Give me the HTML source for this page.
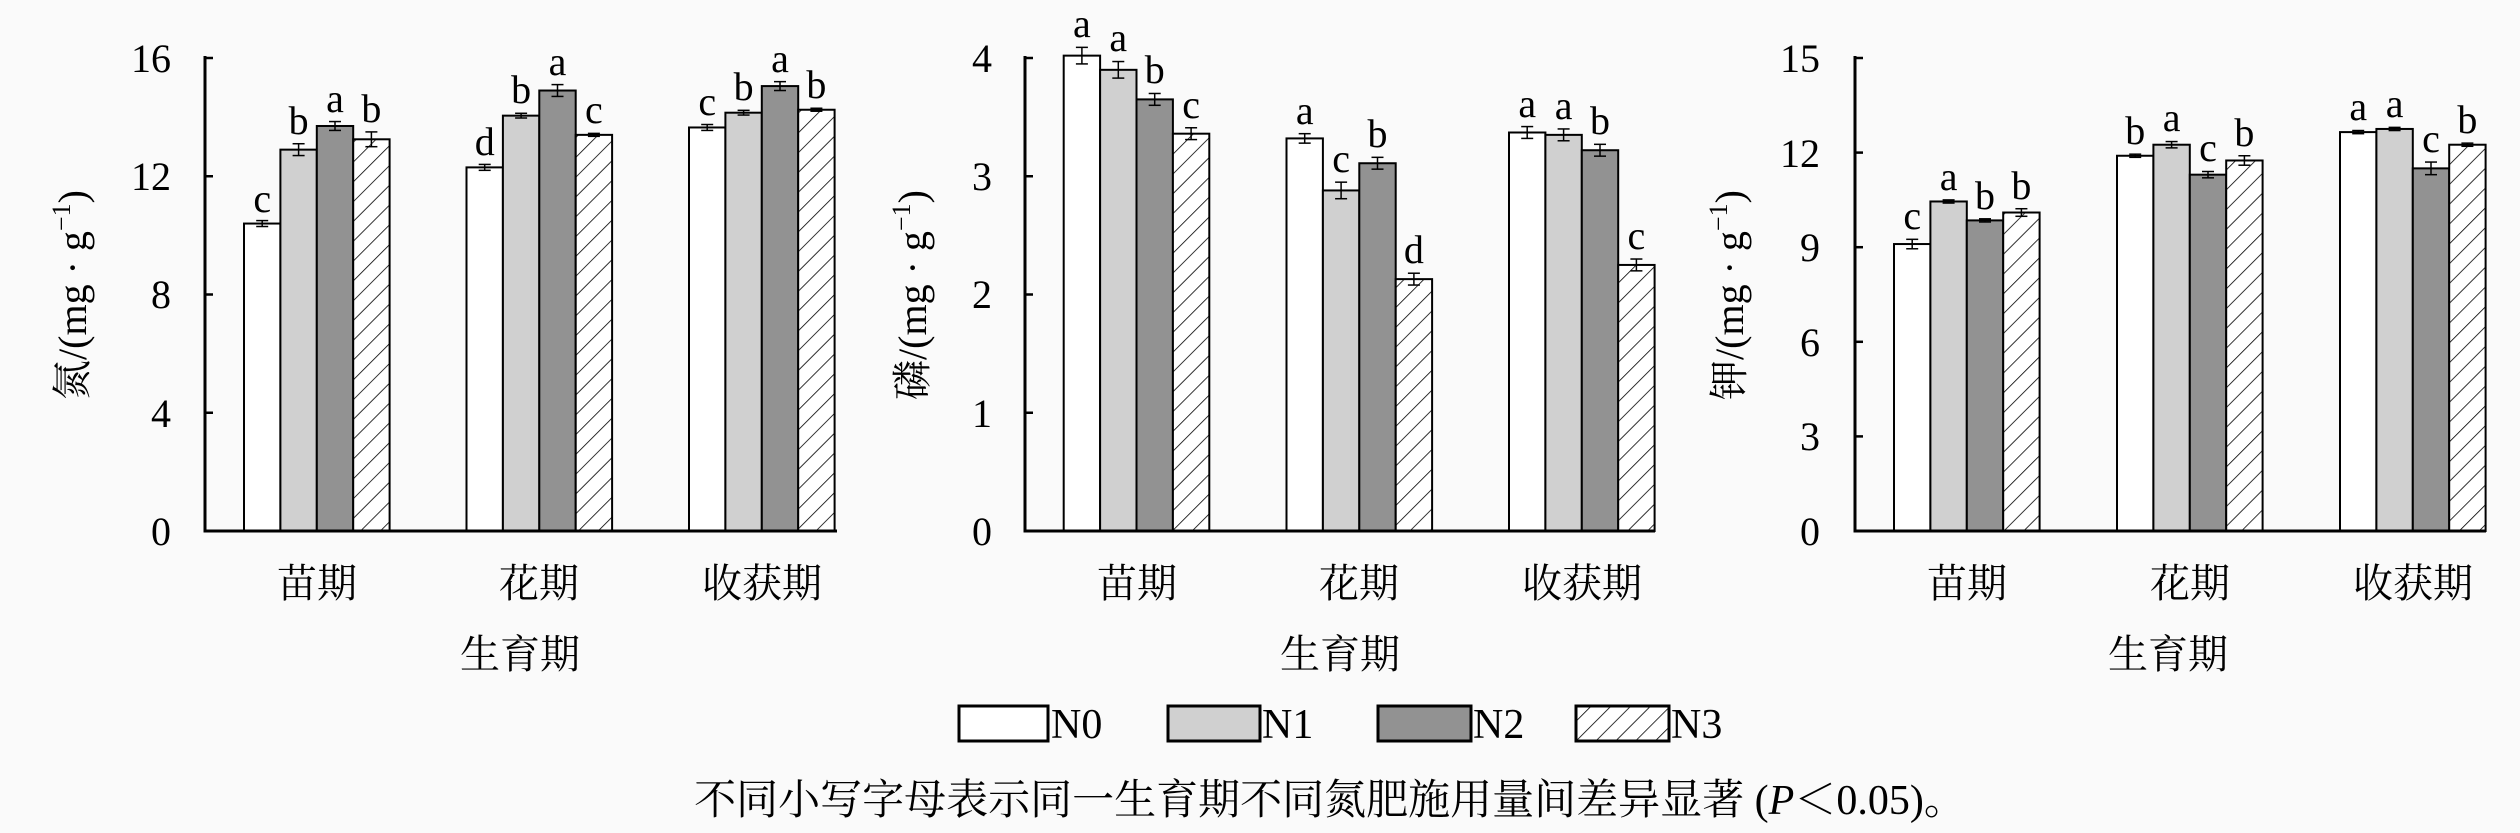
<!DOCTYPE html>
<html><head><meta charset="utf-8">
<style>
html,body{margin:0;padding:0;background:#fafafa;}
svg{display:block;}
text{font-family:"Liberation Serif","Noto Serif CJK SC",serif;fill:#000;}
.t{font-size:40px;}
.c{font-size:40px;}
.l{font-size:40px;text-anchor:middle;}
</style></head>
<body>
<svg id="s" width="2520" height="833" viewBox="0 0 2520 833" xmlns="http://www.w3.org/2000/svg">
<defs>
<pattern id="h" patternUnits="userSpaceOnUse" width="14" height="14" patternTransform="rotate(45)">
<rect width="14" height="14" fill="#fff"/>
<line x1="0" y1="0" x2="0" y2="14" stroke="#000" stroke-width="1.6"/>
</pattern>
</defs>
<g id="g"></g>

<g class="t" text-anchor="end">
<text x="171" y="545">0</text><text x="171" y="427">4</text><text x="171" y="308">8</text><text x="171" y="190">12</text><text x="171" y="72">16</text>
<text x="992" y="545">0</text><text x="992" y="427">1</text><text x="992" y="308">2</text><text x="992" y="190">3</text><text x="992" y="72">4</text>
<text x="1820" y="545">0</text><text x="1820" y="450">3</text><text x="1820" y="356">6</text><text x="1820" y="261">9</text><text x="1820" y="167">12</text><text x="1820" y="72">15</text>
</g>

<text class="t" text-anchor="middle" transform="translate(86,295) rotate(-90)">氮/(mg · g<tspan font-size="26" dy="-16">−1</tspan><tspan dy="16">)</tspan></text>
<text class="t" text-anchor="middle" transform="translate(926,295) rotate(-90)">磷/(mg · g<tspan font-size="26" dy="-16">−1</tspan><tspan dy="16">)</tspan></text>
<text class="t" text-anchor="middle" transform="translate(1743,295) rotate(-90)">钾/(mg · g<tspan font-size="26" dy="-16">−1</tspan><tspan dy="16">)</tspan></text>

<g class="c" text-anchor="middle">
<text x="317" y="597">苗期</text><text x="539" y="597">花期</text><text x="762" y="597">收获期</text>
<text x="1137" y="597">苗期</text><text x="1359" y="597">花期</text><text x="1582" y="597">收获期</text>
<text x="1967" y="597">苗期</text><text x="2190" y="597">花期</text><text x="2413" y="597">收获期</text>
<text x="520" y="668">生育期</text><text x="1340" y="668">生育期</text><text x="2168" y="668">生育期</text>
</g>

<g class="l">
<text x="262.2" y="212">c</text><text x="298.6" y="134">b</text><text x="335" y="112">a</text><text x="371.4" y="122">b</text>
<text x="484.7" y="155">d</text><text x="521.1" y="103">b</text><text x="557.5" y="75">a</text><text x="593.9" y="123">c</text>
<text x="707.2" y="115">c</text><text x="743.6" y="100">b</text><text x="780" y="72">a</text><text x="816.4" y="98">b</text>
<text x="1081.9" y="37">a</text><text x="1118.3" y="51">a</text><text x="1154.7" y="83">b</text><text x="1191.1" y="118">c</text>
<text x="1304.7" y="124">a</text><text x="1341.1" y="172">c</text><text x="1377.5" y="147">b</text><text x="1413.9" y="263">d</text>
<text x="1527.2" y="117">a</text><text x="1563.6" y="119">a</text><text x="1600" y="134">b</text><text x="1636.4" y="249">c</text>
<text x="1912.2" y="229">c</text><text x="1948.6" y="190">a</text><text x="1985" y="209">b</text><text x="2021.4" y="199">b</text>
<text x="2135.2" y="144">b</text><text x="2171.6" y="131">a</text><text x="2208" y="161">c</text><text x="2244.4" y="146">b</text>
<text x="2358.2" y="120">a</text><text x="2394.6" y="117">a</text><text x="2431" y="152">c</text><text x="2467.4" y="133">b</text>
</g>

<rect x="959" y="706" width="89" height="35" fill="#fff" stroke="#000" stroke-width="3"/>
<rect x="1168" y="706" width="92" height="35" fill="#d0d0d0" stroke="#000" stroke-width="3"/>
<rect x="1378" y="706" width="93" height="35" fill="#929292" stroke="#000" stroke-width="3"/>
<rect x="1576" y="706" width="93" height="35" fill="url(#h)" stroke="#000" stroke-width="3"/>
<g style="font-size:42px">
<text x="1051" y="738">N0</text><text x="1262" y="738">N1</text><text x="1473" y="738">N2</text><text x="1671" y="738">N3</text>
</g>

<text x="1330" y="814" text-anchor="middle" style="font-size:42px">不同小写字母表示同一生育期不同氮肥施用量间差异显著 (<tspan font-style="italic">P</tspan>＜0.05)。</text>
</svg>
<script>
(function(){
var g=document.getElementById('g'),ns='http://www.w3.org/2000/svg';
function el(t,a){var e=document.createElementNS(ns,t);for(var k in a)e.setAttribute(k,a[k]);g.appendChild(e);return e;}
var fills=['#fff','#d0d0d0','#929292','url(#h)'];
var charts=[
 {ax:205,end:837,max:16,ticks:[531,412.75,294.5,176.25,58],gs:[244,466.5,689],
  v:[[10.4,12.9,13.7,13.25],[12.3,14.05,14.9,13.4],[13.65,14.15,15.05,14.25]],
  e:[[.1,.2,.15,.25],[.1,.08,.2,.05],[.1,.08,.15,.05]]},
 {ax:1025,end:1655,max:4,ticks:[531,412.75,294.5,176.25,58],gs:[1063.7,1286.5,1509],
  v:[[4.02,3.9,3.65,3.36],[3.32,2.88,3.11,2.13],[3.37,3.35,3.22,2.25]],
  e:[[.07,.07,.05,.05],[.04,.07,.05,.05],[.05,.05,.05,.05]]},
 {ax:1855,end:2486,max:15,ticks:[531,436.4,341.8,247.2,152.6,58],gs:[1894,2117,2340],
  v:[[9.1,10.45,9.85,10.1],[11.9,12.25,11.3,11.75],[12.65,12.75,11.5,12.25]],
  e:[[.15,.05,.05,.12],[.05,.1,.1,.15],[.05,.05,.2,.05]]}
];
var W=36.4;
charts.forEach(function(c){
 var s=473/c.max;
 c.gs.forEach(function(x0,gi){
  for(var i=0;i<4;i++){
   var v=c.v[gi][i],y=531-v*s,x=x0+i*W;
   el('rect',{x:x,y:y,width:W,height:531-y,fill:fills[i],stroke:'#000','stroke-width':2});
   var ee=c.e[gi][i]*s,cx=x+W/2;
   el('line',{x1:cx,x2:cx,y1:y-ee,y2:y+ee,stroke:'#000','stroke-width':1.5});
   el('line',{x1:cx-6,x2:cx+6,y1:y-ee,y2:y-ee,stroke:'#000','stroke-width':1.5});
   el('line',{x1:cx-6,x2:cx+6,y1:y+ee,y2:y+ee,stroke:'#000','stroke-width':1.5});
  }
 });
 el('line',{x1:c.ax,x2:c.ax,y1:56,y2:532,stroke:'#000','stroke-width':3});
 el('line',{x1:c.ax-1.5,x2:c.end,y1:531,y2:531,stroke:'#000','stroke-width':3});
 c.ticks.forEach(function(t){el('line',{x1:c.ax,x2:c.ax+8,y1:t,y2:t,stroke:'#000','stroke-width':2.5});});
});
})();
</script>
</body></html>
